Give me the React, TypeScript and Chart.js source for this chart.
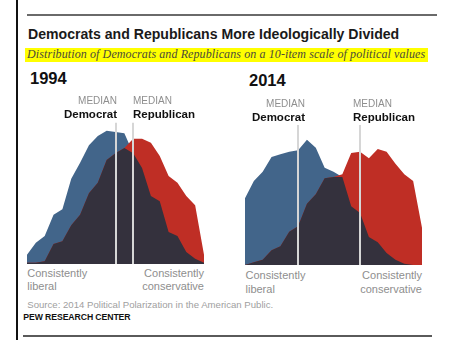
import React, { useEffect, useRef } from "react";
import { Chart, registerables } from "chart.js";

Chart.register(...registerables);

// Position on the 10-item political values scale (-10 liberal ... +10 conservative)
const SCALE_POINTS = [-10, -9, -8, -7, -6, -5, -4, -3, -2, -1, 0, 1, 2, 3, 4, 5, 6, 7, 8, 9, 10];

// Share of each party (%) at each scale position
const DEM_1994 = [0.7, 1.6, 2.1, 3.7, 4.1, 6.4, 7.6, 8.9, 9.6, 10.0, 9.9, 9.8, 8.3, 7.2, 5.1, 4.7, 2.4, 2.1, 0.9, 0.4, 0.1];
const REP_1994 = [0.1, 0.1, 0.2, 1.5, 1.7, 2.9, 3.7, 5.3, 6.1, 7.8, 8.3, 8.7, 9.4, 9.4, 9.1, 8.1, 6.6, 6.1, 5.1, 4.4, 0.7];
const DEM_2014 = [5.0, 6.3, 7.0, 8.1, 8.3, 8.5, 8.6, 9.4, 8.8, 7.3, 7.0, 6.6, 4.4, 3.9, 2.1, 1.7, 0.9, 0.4, 0.1, 0, 0];
const REP_2014 = [0, 0.2, 0.4, 1.1, 1.4, 2.5, 2.9, 4.6, 5.3, 6.5, 6.6, 6.8, 8.4, 8.5, 8.0, 8.7, 8.5, 7.6, 6.8, 6.3, 2.8];

// Medians on the scale
const MEDIANS_1994 = [0.1, 2.0];
const MEDIANS_2014 = [-4.0, 3.0];

const BLUE = "#42658a";
const RED = "#bf2e25";
const DARK = "#34313d";
const MEDIAN_LINE = "#d6d6d6";

const SANS = '"Liberation Sans", Arial, sans-serif';
const SERIF = '"Liberation Serif", "Times New Roman", serif';

type PanelProps = {
  left: number;
  top: number;
  dem: number[];
  rep: number[];
  medians: number[];
  medianTop: number;
};

function Panel({ left, top, dem, rep, medians, medianTop }: PanelProps) {
  const ref = useRef<HTMLCanvasElement | null>(null);
  useEffect(() => {
    if (!ref.current) return;
    const overlap = dem.map((d, i) => Math.min(d, rep[i]));
    const pts = (arr: number[]) => SCALE_POINTS.map((x, i) => ({ x, y: arr[i] }));
    const medianPlugin = {
      id: "medianLines",
      afterDatasetsDraw(chart: any) {
        const { ctx, scales } = chart;
        ctx.save();
        ctx.strokeStyle = MEDIAN_LINE;
        ctx.lineWidth = 2;
        medians.forEach((m) => {
          const x = Math.round(scales.x.getPixelForValue(m));
          ctx.beginPath();
          ctx.moveTo(x, scales.y.getPixelForValue(medianTop));
          ctx.lineTo(x, scales.y.getPixelForValue(0));
          ctx.stroke();
        });
        ctx.restore();
      },
    };
    const common = { borderWidth: 0, pointRadius: 0, tension: 0, fill: "origin" as const };
    const chart = new Chart(ref.current, {
      type: "line",
      data: {
        datasets: [
          { ...common, label: "Overlap", data: pts(overlap), backgroundColor: DARK, borderColor: DARK, order: 0 },
          { ...common, label: "Republican", data: pts(rep), backgroundColor: RED, borderColor: RED, order: 1 },
          { ...common, label: "Democrat", data: pts(dem), backgroundColor: BLUE, borderColor: BLUE, order: 2 },
        ],
      },
      options: {
        responsive: false,
        animation: false,
        events: [],
        layout: { padding: 0 },
        plugins: { legend: { display: false }, tooltip: { enabled: false } },
        scales: {
          x: { type: "linear", min: -10, max: 10, display: false },
          y: { min: 0, max: 12, display: false },
        },
      },
      plugins: [medianPlugin],
    });
    return () => chart.destroy();
  }, []);
  return <canvas ref={ref} width={177} height={160} style={{ position: "absolute", left, top }} />;
}

type TProps = {
  x: number;
  base: number;
  size: number;
  text: string;
  color?: string;
  bold?: boolean;
  italic?: boolean;
  font?: string;
  align?: "left" | "right";
  spacing?: number;
};

function T({ x, base, size, text, color = "#222", bold, italic, font = SANS, align = "left", spacing = 0 }: TProps) {
  const top = base - 0.85 * size;
  const style: React.CSSProperties = {
    position: "absolute",
    top,
    fontFamily: font,
    fontSize: size,
    lineHeight: `${size}px`,
    fontWeight: bold ? 700 : 400,
    fontStyle: italic ? "italic" : "normal",
    color,
    whiteSpace: "nowrap",
    letterSpacing: spacing,
  };
  if (align === "left") style.left = x;
  else style.right = 449 - x;
  return <div style={style}>{text}</div>;
}

export default function App() {
  const gray = "#8e8e8e";
  return (
    <div style={{ position: "absolute", left: 0, top: 0, width: 449, height: 357, background: "#fff", overflow: "hidden" }}>
      <div style={{ position: "absolute", left: 16, top: 0, width: 1.5, height: 340, background: "#111" }} />
      <div style={{ position: "absolute", left: 27, top: 13.5, width: 410, height: 2.5, background: "#6a6a6a" }} />
      <div style={{ position: "absolute", left: 23, top: 335, width: 409, height: 2, background: "#5a5a5a" }} />

      <T x={28} base={39.3} size={14.1} bold text="Democrats and Republicans More Ideologically Divided" color="#1a1a1a" />
      <div style={{ position: "absolute", left: 25, top: 48, width: 403, height: 14, background: "#ffff00" }} />
      <T x={27} base={58.5} size={12} italic font={SERIF} color="#4a4a3a" spacing={0.1}
        text="Distribution of Democrats and Republicans on a 10-item scale of political values" />

      <T x={30} base={84.5} size={16.5} bold text="1994" color="#111" />
      <T x={249} base={86.5} size={16.5} bold text="2014" color="#111" />

      <Panel left={27} top={104} dem={DEM_1994} rep={REP_1994} medians={MEDIANS_1994} medianTop={10.6} />
      <Panel left={245} top={105} dem={DEM_2014} rep={REP_2014} medians={MEDIANS_2014} medianTop={10.5} />

      <T x={117} base={104.7} size={10} align="right" text="MEDIAN" color={gray} />
      <T x={117} base={119} size={11.5} align="right" bold text="Democrat" color="#111" />
      <T x={133} base={104.7} size={10} text="MEDIAN" color={gray} />
      <T x={133} base={119} size={11.5} bold text="Republican" color="#111" />

      <T x={305} base={107.5} size={10} align="right" text="MEDIAN" color={gray} />
      <T x={305} base={121.5} size={11.5} align="right" bold text="Democrat" color="#111" />
      <T x={353} base={107.5} size={10} text="MEDIAN" color={gray} />
      <T x={353} base={121.5} size={11.5} bold text="Republican" color="#111" />

      <T x={27.3} base={277} size={11} text="Consistently" color={gray} />
      <T x={27.3} base={290.5} size={11} text="liberal" color={gray} />
      <T x={204} base={277} size={11} align="right" text="Consistently" color={gray} />
      <T x={204} base={290.5} size={11} align="right" text="conservative" color={gray} />

      <T x={245.5} base={279.5} size={11} text="Consistently" color={gray} />
      <T x={245.5} base={293} size={11} text="liberal" color={gray} />
      <T x={422} base={279.5} size={11} align="right" text="Consistently" color={gray} />
      <T x={422} base={293} size={11} align="right" text="conservative" color={gray} />

      <T x={27.3} base={308.3} size={9.6} text="Source: 2014 Political Polarization in the American Public." color="#a0a0a0" />
      <T x={23.3} base={320} size={8.7} bold spacing={-0.1} text="PEW RESEARCH CENTER" color="#111" />
    </div>
  );
}
